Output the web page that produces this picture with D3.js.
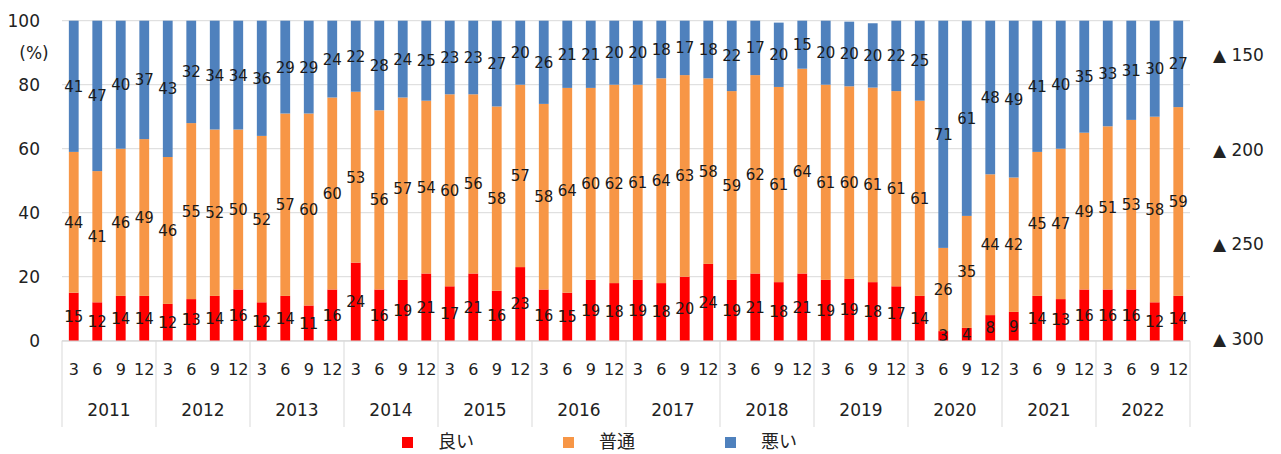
<!DOCTYPE html>
<html><head><meta charset="utf-8">
<script src="https://cdn.jsdelivr.net/npm/d3@7"></script>
<style>body{margin:0;background:#fff}svg{display:block}</style>
</head><body>
<svg id="c" width="1281" height="454"></svg>
<script>
const years = ["2011","2012","2013","2014","2015","2016","2017","2018","2019","2020","2021","2022"];
const quarters = ["3","6","9","12"];
const good = [15,12,14,14, 11.5,13,14,16, 12,14,11,16, 24.4,16,19,21, 17,21,15.6,23, 16,15,19,18, 19,18,20,24, 19,21,18.3,21, 19,19.3,18.3,17, 14,3,4,8, 9,14,13,16, 16,16,12,14];
const normal = [44,41,46,49, 45.9,55,52,50, 52,57,60,60, 53.4,56,57,54, 60,56,57.6,57, 58,64,60,62, 61,64,63,58, 59,62,61,64, 61,60.2,60.8,61, 61,26,35,44, 42,45,47,49, 51,53,58,59];
const bad = [41,47,40,37, 42.6,32,34,34, 36,29,29,24, 22.2,28,24,25, 23,23,26.8,20, 26,21,21,20, 20,18,17,18, 22,17,20.1,15, 20,20.2,20.1,22, 25,71,61,48, 49,41,40,35, 33,31,30,27];
const leftTicks = [0,20,40,60,80,100];
const rightTicks = [-300,-250,-200,-150];
const seriesNames = ["良い","普通","悪い"];
const colors = ["#FF0000","#F79646","#4F81BD"];

const svg = d3.select("#c");
const L = 62, R = 1190, T = 20.7, B = 340.7;
const cats = [];
years.forEach(y => quarters.forEach(q => cats.push(y + "-" + q)));
const x = d3.scaleBand().domain(cats).range([L, R]).padding(0);
const y = d3.scaleLinear().domain([0, 100]).range([B, T]);
const y2 = d3.scaleLinear().domain([-300.9, -131.9]).range([B, T]);
const bw = x.step() / 2.4;

// gridlines
svg.append("g").selectAll("line").data(leftTicks).join("line")
  .attr("x1", L).attr("x2", R).attr("y1", d => y(d)).attr("y2", d => y(d))
  .attr("stroke", "#d9d9d9").attr("stroke-width", 1);

// left axis labels
const fnt = "DejaVu Sans, Verdana, sans-serif";
svg.append("g").selectAll("text").data(leftTicks).join("text")
  .attr("x", 40).attr("y", d => y(d)).attr("dy", "0.35em")
  .attr("text-anchor", "end").attr("font-family", fnt).attr("font-size", 17).attr("fill", "#222")
  .text(d => d);
svg.append("text").attr("x", 34).attr("y", 53).attr("dy", "0.35em").attr("text-anchor", "middle")
  .attr("font-family", fnt).attr("font-size", 17).attr("fill", "#222").text("(%)");

// right axis labels
svg.append("g").selectAll("text").data(rightTicks).join("text")
  .attr("x", 1213).attr("y", d => y2(d)).attr("dy", "0.35em")
  .attr("font-family", fnt).attr("font-size", 17).attr("fill", "#222")
  .text(d => "▲ " + Math.abs(d));

// stacked data
const rows = cats.map((c, i) => ({cat: c, s0: good[i], s1: normal[i], s2: bad[i]}));
const stack = d3.stack().keys(["s0","s1","s2"])(rows);

const g = svg.append("g");
stack.forEach((layer, k) => {
  g.append("g").selectAll("rect").data(layer).join("rect")
    .attr("x", d => x(d.data.cat) + x.step()/2 - bw/2)
    .attr("width", bw)
    .attr("y", d => y(d[1]))
    .attr("height", d => y(d[0]) - y(d[1]))
    .attr("fill", colors[k]);
});
const lg = svg.append("g");
stack.forEach((layer, k) => {
  lg.append("g").selectAll("text").data(layer).join("text")
    .attr("x", d => x(d.data.cat) + x.step()/2)
    .attr("y", d => y((d[0] + d[1]) / 2))
    .attr("dy", "0.36em")
    .attr("text-anchor", "middle")
    .attr("font-family", fnt).attr("font-size", 15).attr("fill", "#1a1a1a")
    .text(d => Math.round(d[1] - d[0]));
});

// bottom axis line
svg.append("line").attr("x1", L).attr("x2", R).attr("y1", B+0.5).attr("y2", B+0.5)
  .attr("stroke", "#d9d9d9");
// year separators
const yearEdges = d3.range(years.length + 1).map(i => L + i * x.step() * quarters.length);
svg.append("g").selectAll("line").data(yearEdges).join("line")
  .attr("x1", d => d).attr("x2", d => d).attr("y1", B).attr("y2", 427)
  .attr("stroke", "#d9d9d9");
// quarter labels
svg.append("g").selectAll("text").data(cats).join("text")
  .attr("x", d => x(d) + x.step()/2).attr("y", 369).attr("dy", "0.35em")
  .attr("text-anchor", "middle").attr("font-family", fnt).attr("font-size", 16).attr("fill", "#222")
  .text(d => d.split("-")[1]);
// year labels
svg.append("g").selectAll("text").data(years).join("text")
  .attr("x", (d, i) => L + (i + 0.5) * x.step() * quarters.length).attr("y", 410).attr("dy", "0.35em")
  .attr("text-anchor", "middle").attr("font-family", fnt).attr("font-size", 17).attr("fill", "#222")
  .text(d => d);

// legend
const legX = [402, 563, 725];
const leg = svg.append("g").selectAll("g").data(seriesNames).join("g");
leg.append("rect").attr("x", (d, i) => legX[i]).attr("y", 437).attr("width", 11).attr("height", 11)
  .attr("fill", (d, i) => colors[i]);
leg.append("text").attr("x", (d, i) => legX[i] + 36).attr("y", 441.5).attr("dy", "0.36em")
  .attr("font-family", "Noto Sans CJK JP, sans-serif").attr("font-size", 18).attr("fill", "#222")
  .text(d => d);
</script>
</body></html>
